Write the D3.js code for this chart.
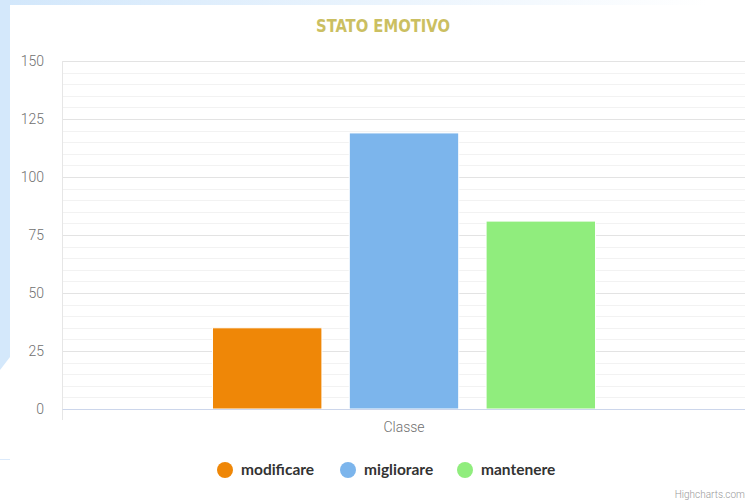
<!DOCTYPE html>
<html>
<head>
<meta charset="UTF-8">
<title>Stato emotivo</title>
<style>
    html, body { margin: 0; padding: 0; background: #fff; }
    svg { display: block; }
    .tick text { font-family: Roboto, sans-serif; font-weight: 300; }
</style>
</head>
<body>
<script src="https://d3js.org/d3.v7.min.js"></script>
<script>

    var categories = ["Classe"];
    var seriesNames = ["modificare", "migliorare", "mantenere"];
    var seriesValues = [35, 119, 81];
    var seriesColors = ["#ef8707", "#7cb5ec", "#90ed7d"];
    var yTicks = [0, 25, 50, 75, 100, 125, 150];

    var width = 745,
        height = 503;

    var margin = { top: 61, right: -1, bottom: 94, left: 62 };

    var svg = d3.select("body")
        .append("svg")
        .attr("width", width)
        .attr("height", height);

    var defs = svg.append("defs");
    var grad = defs.append("linearGradient")
        .attr("id", "topfade")
        .attr("x1", "0").attr("x2", "1").attr("y1", "0").attr("y2", "0");
    grad.append("stop").attr("offset", "0").attr("stop-color", "#d2e7fb");
    grad.append("stop").attr("offset", "0.95").attr("stop-color", "#ffffff");

    // page decoration behind the chart
    svg.append("rect")
        .attr("x", 0).attr("y", 0)
        .attr("width", width).attr("height", 5)
        .style("fill", "url(#topfade)");
    svg.append("path")
        .attr("d", "M0,0 L10,0 L10,357 L0,370 Z")
        .style("fill", "#d4e8fb");
    svg.append("line")
        .attr("x1", 0).attr("x2", 10).attr("y1", 459.5).attr("y2", 459.5)
        .style("stroke", "#dbeafb");

    var x0 = margin.left,
        x1 = width - margin.right,
        y0 = margin.top,
        y1 = height - margin.bottom;

    var y = d3.scaleLinear()
        .domain([0, 150])
        .range([y1, y0]);

    var xCat = d3.scaleBand()
        .domain(categories)
        .range([x0, x1]);

    var groupPad = 0.2 * xCat.bandwidth();
    var xSer = d3.scaleBand()
        .domain(seriesNames)
        .range([xCat(categories[0]) + groupPad, xCat(categories[0]) + xCat.bandwidth() - groupPad])
        .paddingInner(0.2)
        .paddingOuter(0.1);

    // minor grid every 5
    svg.append("g")
        .selectAll("line")
        .data(d3.range(5, 150, 5).filter(function(d) { return d % 25 !== 0; }))
        .enter().append("line")
        .attr("x1", x0).attr("x2", x1)
        .attr("y1", function(d) { return Math.round(y(d)) + 0.5; })
        .attr("y2", function(d) { return Math.round(y(d)) + 0.5; })
        .style("stroke", "#f2f2f2");

    // major grid
    svg.append("g")
        .selectAll("line")
        .data(yTicks.slice(1))
        .enter().append("line")
        .attr("x1", x0).attr("x2", x1)
        .attr("y1", function(d) { return Math.round(y(d)) + 0.5; })
        .attr("y2", function(d) { return Math.round(y(d)) + 0.5; })
        .style("stroke", "#e3e3e3");

    // y axis labels
    var yAxis = d3.axisLeft(y)
        .tickValues(yTicks)
        .tickSize(0)
        .tickPadding(18);

    var gy = svg.append("g")
        .attr("transform", "translate(" + x0 + ",0)")
        .call(yAxis);
    gy.select(".domain").remove();
    gy.selectAll("text")
        .style("font-size", "14px")
        .style("fill", "#707070");

    // left and right vertical lines of plot area
    svg.append("line")
        .attr("x1", x0 + 0.5).attr("x2", x0 + 0.5)
        .attr("y1", y0).attr("y2", y1 + 11)
        .style("stroke", "#e6e6e6");
    svg.append("line")
        .attr("x1", x1 - 0.5).attr("x2", x1 - 0.5)
        .attr("y1", y0).attr("y2", y1 + 11)
        .style("stroke", "#eeeeee");

    // bars
    svg.append("g")
        .selectAll("rect")
        .data(seriesNames)
        .enter().append("rect")
        .attr("x", function(d) { return xSer(d); })
        .attr("width", xSer.bandwidth())
        .attr("y", function(d, i) { return y(seriesValues[i]); })
        .attr("height", function(d, i) { return y1 - y(seriesValues[i]); })
        .style("fill", function(d, i) { return seriesColors[i]; })
        .style("stroke", "#ffffff")
        .style("stroke-width", 1);

    // x axis
    var xAxis = d3.axisBottom(xCat)
        .tickSize(0)
        .tickPadding(13);
    var gx = svg.append("g")
        .attr("transform", "translate(0," + y1 + ")")
        .call(xAxis);
    gx.select(".domain")
        .style("stroke", "#ccd6eb");
    gx.selectAll("text")
        .style("font-size", "14px")
        .style("fill", "#707070");

    // title
    svg.append("text")
        .attr("x", 383)
        .attr("y", 32)
        .attr("text-anchor", "middle")
        .attr("textLength", 134)
        .attr("lengthAdjust", "spacingAndGlyphs")
        .style("font-family", "'DejaVu Sans Condensed', sans-serif")
        .style("font-stretch", "condensed")
        .style("font-weight", "bold")
        .style("font-size", "18.5px")
        .style("fill", "#cbbf62")
        .text("STATO EMOTIVO");

    // legend
    var legendX = [225, 348, 465];
    var legend = svg.append("g")
        .selectAll("g")
        .data(seriesNames)
        .enter().append("g")
        .attr("transform", function(d, i) { return "translate(" + legendX[i] + ",470)"; });
    legend.append("circle")
        .attr("r", 8)
        .style("fill", function(d, i) { return seriesColors[i]; });
    legend.append("text")
        .attr("x", 16)
        .attr("y", 5)
        .style("font-family", "Lato, sans-serif")
        .style("font-weight", "bold")
        .style("font-size", "15.5px")
        .style("fill", "#333333")
        .text(function(d) { return d; });

    // credits
    svg.append("text")
        .attr("x", 745)
        .attr("y", 498)
        .attr("text-anchor", "end")
        .style("font-family", "Roboto, sans-serif")
        .style("font-weight", "300")
        .style("font-size", "10px")
        .style("fill", "#999999")
        .text("Highcharts.com");

</script>
</body>
</html>
